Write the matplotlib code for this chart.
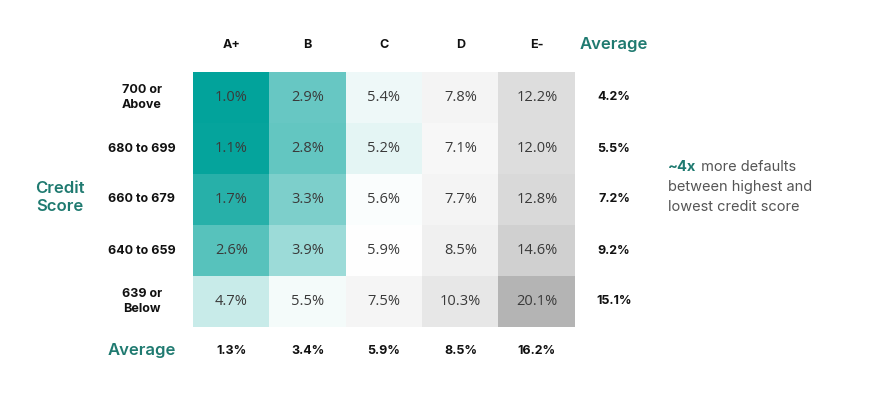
import matplotlib.pyplot as plt
import numpy as np
from matplotlib.colors import LinearSegmentedColormap, TwoSlopeNorm

grades = ['A+', 'B', 'C', 'D', 'E-']
score_bands = ['700 or\nAbove', '680 to 699', '660 to 679', '640 to 659', '639 or\nBelow']
default_rates = [
    [1.0, 2.9, 5.4, 7.8, 12.2],
    [1.1, 2.8, 5.2, 7.1, 12.0],
    [1.7, 3.3, 5.6, 7.7, 12.8],
    [2.6, 3.9, 5.9, 8.5, 14.6],
    [4.7, 5.5, 7.5, 10.3, 20.1],
]
row_averages = [4.2, 5.5, 7.2, 9.2, 15.1]
col_averages = [1.3, 3.4, 5.9, 8.5, 16.2]

teal = '#1f7a70'
label_font = 'Inter'
value_font = 'Open Sans'

cmap = LinearSegmentedColormap.from_list('tealgray', ['#02a39b', '#ffffff', '#b4b4b4'])
norm = TwoSlopeNorm(vmin=1.0, vcenter=5.7, vmax=20.1)

fig = plt.figure(figsize=(8.7, 4.0), dpi=100)
ax = fig.add_axes([193 / 870, 1 - 327 / 400, 382 / 870, 255 / 400])
data = np.array(default_rates)
ax.imshow(data, cmap=cmap, norm=norm, aspect='auto', extent=(0, 5, 5, 0),
          interpolation='nearest')
ax.set_xlim(0, 5)
ax.set_ylim(5, 0)
ax.axis('off')

for i in range(len(score_bands)):
    for j in range(len(grades)):
        ax.text(j + 0.5, i + 0.5, f'{data[i, j]:.1f}%', ha='center', va='center',
                fontsize=10.5, color='#3a3a3a', family=value_font)

for j, g in enumerate(grades):
    ax.text(j + 0.5, -0.53, g, ha='center', va='center', fontsize=9,
            fontweight='bold', color='#111111', family=label_font, clip_on=False)
    ax.text(j + 0.5, 5.47, f'{col_averages[j]:.1f}%', ha='center', va='center',
            fontsize=9, fontweight='bold', color='#111111', family=label_font,
            clip_on=False)

for i, s in enumerate(score_bands):
    ax.text(-0.67, i + 0.5, s, ha='center', va='center', fontsize=9,
            fontweight='bold', color='#111111', family=label_font,
            linespacing=1.35, clip_on=False)
    ax.text(5.51, i + 0.5, f'{row_averages[i]:.1f}%', ha='center', va='center',
            fontsize=9, fontweight='bold', color='#111111', family=label_font,
            clip_on=False)

ax.text(5.51, -0.53, 'Average', ha='center', va='center', fontsize=12,
        fontweight='semibold', color=teal, family=label_font, clip_on=False)
ax.text(-0.67, 5.47, 'Average', ha='center', va='center', fontsize=12,
        fontweight='semibold', color=teal, family=label_font, clip_on=False)
ax.text(-1.74, 2.47, 'Credit\nScore', ha='center', va='center', fontsize=12,
        fontweight='semibold', color=teal, family=label_font, linespacing=1.25,
        clip_on=False)

# annotation: bold teal prefix followed by grey text
x0, y0 = 6.22, 1.86
bold = ax.text(x0, y0, '~4x', ha='left', va='center', fontsize=10.5,
               fontweight='bold', color=teal, family=label_font, clip_on=False)
fig.canvas.draw()
bb = bold.get_window_extent().transformed(ax.transData.inverted())
ax.text(bb.x1, y0, ' more defaults', ha='left', va='center', fontsize=10.5,
        color='#555555', family=label_font, clip_on=False)
ax.text(x0, y0 + 0.39, 'between highest and', ha='left', va='center',
        fontsize=10.5, color='#555555', family=label_font, clip_on=False)
ax.text(x0, y0 + 0.79, 'lowest credit score', ha='left', va='center',
        fontsize=10.5, color='#555555', family=label_font, clip_on=False)

fig.savefig('out.png', dpi=100)
